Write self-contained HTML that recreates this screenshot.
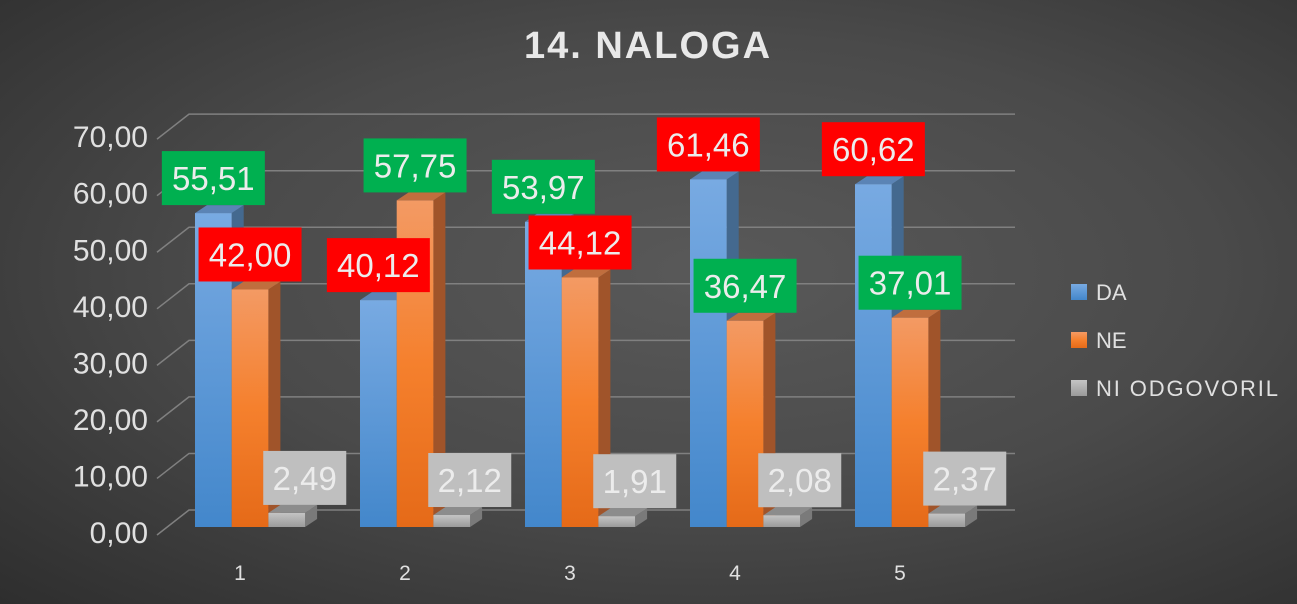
<!DOCTYPE html>
<html><head><meta charset="utf-8"><style>
html,body{margin:0;padding:0}
body{width:1297px;height:604px;overflow:hidden;background:radial-gradient(ellipse at 55% 45%,#595959 0%,#4a4a4a 50%,#2e2e2e 100%);font-family:"Liberation Sans",sans-serif}
svg{display:block}
</style></head><body>
<svg id="chart" width="1297" height="604" xmlns="http://www.w3.org/2000/svg">
<defs>
<linearGradient id="gBlue" x1="0" y1="0" x2="0" y2="1"><stop offset="0" stop-color="#78aae2"/><stop offset="1" stop-color="#4387cb"/></linearGradient>
<linearGradient id="gOrange" x1="0" y1="0" x2="0" y2="1"><stop offset="0" stop-color="#f39a64"/><stop offset="0.5" stop-color="#f5802d"/><stop offset="1" stop-color="#e56a18"/></linearGradient>
<linearGradient id="gGrey" x1="0" y1="0" x2="0" y2="1"><stop offset="0" stop-color="#c4c4c4"/><stop offset="1" stop-color="#9a9a9a"/></linearGradient>
</defs>
<text x="648" y="58" text-anchor="middle" font-size="38" font-weight="bold" fill="#e8e8e8" letter-spacing="2">14. NALOGA</text>
<g id="grid"></g><g id="yaxis"></g><g id="bars"></g><g id="labels"></g><g id="xaxis"></g>
<g>
<rect x="1071" y="284" width="16" height="16" fill="url(#gBlue)"/>
<text x="1096" y="300" font-size="22" fill="#e0e0e0">DA</text>
<rect x="1071" y="332" width="16" height="16" fill="url(#gOrange)"/>
<text x="1096" y="348" font-size="22" fill="#e0e0e0">NE</text>
<rect x="1071" y="380" width="16" height="16" fill="url(#gGrey)"/>
<text x="1096" y="396" font-size="22" fill="#e0e0e0" textLength="182">NI ODGOVORIL</text>
</g>
</svg>
<script>
const categories = ["1","2","3","4","5"];
const daValues = [55.51,40.12,53.97,61.46,60.62];
const neValues = [42.00,57.75,44.12,36.47,37.01];
const niValues = [2.49,2.12,1.91,2.08,2.37];
const correctAnswer = ["da","ne","da","ne","ne"];
const yTicks = [0,10,20,30,40,50,60,70];

const NS="http://www.w3.org/2000/svg";
const base=527, scale=5.655, dx=12, dy=-8;
const yf=v=>base-v*scale;
const groupX=i=>195+i*165;
const barW=36.7;
function mk(tag,attrs,parent){const e=document.createElementNS(NS,tag);for(const k in attrs)e.setAttribute(k,attrs[k]);parent.appendChild(e);return e;}
const fmt=v=>v.toFixed(2).replace('.',',');
const grid=document.getElementById('grid'),yaxis=document.getElementById('yaxis'),bars=document.getElementById('bars'),labels=document.getElementById('labels'),xaxis=document.getElementById('xaxis');
yTicks.forEach(t=>{
  const yb=yf(t)-17, yfnt=yf(t)+6;
  const l=mk('polyline',{points:`157,${yfnt+2} 189,${yb} 1015,${yb}`,fill:'none',stroke:'#808080','stroke-width':1.5},grid);
  
  
  const tx=mk('text',{x:148,y:yf(t)+16,'text-anchor':'end','font-size':30,fill:'#e0e0e0'},yaxis);
  
  
  tx.textContent=fmt(t);
});
const series=[{v:daValues,f:'url(#gBlue)',side:'#44698f',top:'#5b84b5',n:'da'},{v:neValues,f:'url(#gOrange)',side:'#a0542a',top:'#c06e3e',n:'ne'},{v:niValues,f:'url(#gGrey)',side:'#7a7a7a',top:'#8c8c8c',n:'ni'}];
categories.forEach((c,i)=>{
  series.forEach((s,k)=>{
    const x=groupX(i)+k*barW, v=s.v[i], yt=yf(v);
    const g=mk('g',{},bars);
    
    
    mk('polygon',{points:`${x+barW},${yt} ${x+barW+dx},${yt+dy} ${x+barW+dx},${base+dy} ${x+barW},${base}`,fill:s.side},g);
    mk('polygon',{points:`${x},${yt} ${x+dx},${yt+dy} ${x+barW+dx},${yt+dy} ${x+barW},${yt}`,fill:s.top},g);
    mk('rect',{x:x,y:yt,width:barW,height:base-yt,fill:s.f},g);
  });
  series.forEach((s,k)=>{
    const x=groupX(i)+k*barW+barW/2, v=s.v[i], yt=yf(v);
    let bg;
    if(k==2) bg='#bfbfbf';
    else bg = correctAnswer[i]===s.n?'#00b050':'#ff0000';
    const w=k==2?83:103, h=54, cx=k==2?x+18:x;
    const g=mk('g',{},labels);
    
    
    mk('rect',{x:cx-w/2,y:yt-8-h,width:w,height:h,fill:bg},g);
    const t=mk('text',{x:cx,y:yt-8-h/2+12,'text-anchor':'middle','font-size':33,fill:'#ececec'},g);
    t.textContent=fmt(v);
  });
  const t=mk('text',{x:groupX(i)+45,y:580,'text-anchor':'middle','font-size':21,fill:'#e0e0e0'},xaxis);
  
  
  t.textContent=c;
});
</script>
</body></html>
